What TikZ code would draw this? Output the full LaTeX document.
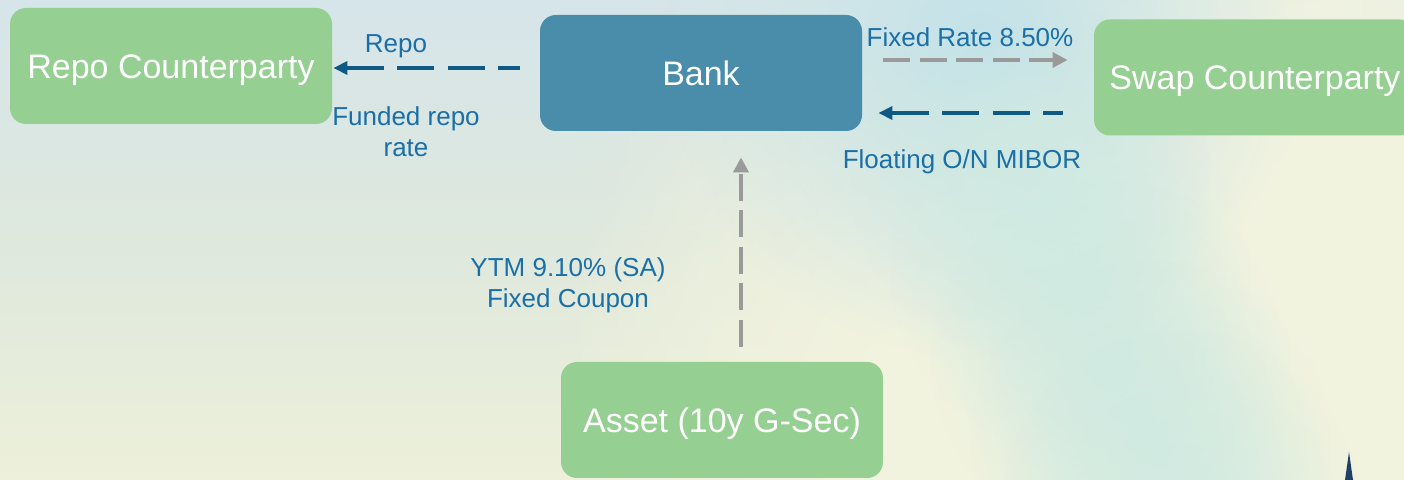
\documentclass[tikz,border=0pt]{standalone}
\usepackage{fontspec}
\setmainfont{Liberation Sans}
\usetikzlibrary{arrows.meta,fadings,calc}
\definecolor{bgtop}{HTML}{D6E5EA}
\definecolor{bgmid}{HTML}{DEE8DD}
\definecolor{bgbot}{HTML}{EDF0DA}
\definecolor{bgcyan}{HTML}{C2E2EA}
\definecolor{bgband}{HTML}{CFEAE2}
\definecolor{bgcream}{HTML}{F3F4DF}
\definecolor{bglight}{HTML}{E8EFE9}
\definecolor{boxgreen}{HTML}{96CF92}
\definecolor{bankblue}{HTML}{4A8DAA}
\definecolor{arrowblue}{HTML}{0E5A84}
\definecolor{labelblue}{HTML}{1A6FA8}
\definecolor{arrowgray}{HTML}{9A9A9A}
\definecolor{spike}{HTML}{1E3F66}
\tikzfading[name=blobfade, inner color=transparent!0, outer color=transparent!100]
\begin{document}
\begin{tikzpicture}[x=0.5pt,y=-0.5pt,
  box/.style={rounded corners=8pt, minimum width=161pt, minimum height=58pt, inner sep=0pt, text height=12.2pt, text depth=0pt, text=white, font=\fontsize{17}{20}\selectfont},
  greenbox/.style={box, fill=boxgreen},
  bankbox/.style={box, fill=bankblue},
  lbl/.style={text=labelblue, font=\fontsize{13}{15.5}\selectfont, align=center, inner sep=0pt},
  bluearrow/.style={draw=arrowblue, line width=2.25pt, dash pattern=on 18.5pt off 6.75pt, {Triangle[length=7pt,width=6.5pt]}-},
  grayarrow/.style={draw=arrowgray, line width=1.7pt, dash pattern=on 13.5pt off 4.75pt, -{Triangle[length=7.5pt,width=7.5pt]}},
  blob/.style={path fading=blobfade},
]
\useasboundingbox (0,0) rectangle (1404,480);
\clip (0,0) rectangle (1404,480);
% background (blob fading radius = quarter of rectangle width)
\shade[top color=bgtop, bottom color=bgbot, middle color=bgmid] (0,0) rectangle (1404,480);
\fill[bglight, blob, opacity=0.8] (1300-500,0-500) rectangle (1300+500,0+500);
\fill[bgcream, blob] (1250-700,330-700) rectangle (1250+700,330+700);
\fill[bgcream, blob] (930-400,400-400) rectangle (930+400,400+400);
\fill[bgcream, blob] (1350-500,250-500) rectangle (1350+500,250+500);
\fill[bgcyan, blob] (985-320,40-320) rectangle (985+320,40+320);
\fill[bgband, blob, opacity=0.8] (1030-180,180-180) rectangle (1030+180,180+180);
\fill[bgband, blob, opacity=0.8] (1070-180,270-180) rectangle (1070+180,270+180);
\fill[bgband, blob, opacity=0.8] (1110-180,360-180) rectangle (1110+180,360+180);
\fill[bgband, blob, opacity=0.8] (1150-180,440-180) rectangle (1150+180,440+180);
\fill[bgband, blob, opacity=0.8] (1180-180,510-180) rectangle (1180+180,510+180);
\fill[spike] (1345,480) -- (1349,452) -- (1353,480) -- cycle;

% nodes
\node[greenbox] (repo) at (171,66) {Repo Counterparty};
\node[bankbox] (bank) at (701,73) {Bank};
\node[greenbox] (swap) at (1255,77.5) {Swap Counterparty};
\node[greenbox] (asset) at (722,420) {Asset (10y G-Sec)};

% connectors
\draw[bluearrow] ($(repo.east)+(1,2)$) -- ($(repo.east -| bank.west)+(-20,2)$);
\draw[grayarrow] ($(bank.east)+(21,-13)$) -- ($(bank.east -| swap.west)+(-26,-13)$);
\draw[bluearrow] ($(bank.east)+(16,40)$) -- ($(bank.east -| swap.west)+(-31,40)$);
\draw[grayarrow] ($(asset.north)+(19,-15)$) -- ($(bank.south)+(40,26)$);

% labels
\node[lbl] (lrepo) at (396,46) {Repo};
\node[lbl] (lfunded) at (406,132) {Funded repo\\rate};
\node[lbl] (lfixed) at (970,37) {Fixed Rate 8.50\%};
\node[lbl] (lfloat) at (962,162) {Floating O/N MIBOR};
\node[lbl] (lytm) at (568,285) {YTM 9.10\% (SA)\\Fixed Coupon};
\end{tikzpicture}
\end{document}
